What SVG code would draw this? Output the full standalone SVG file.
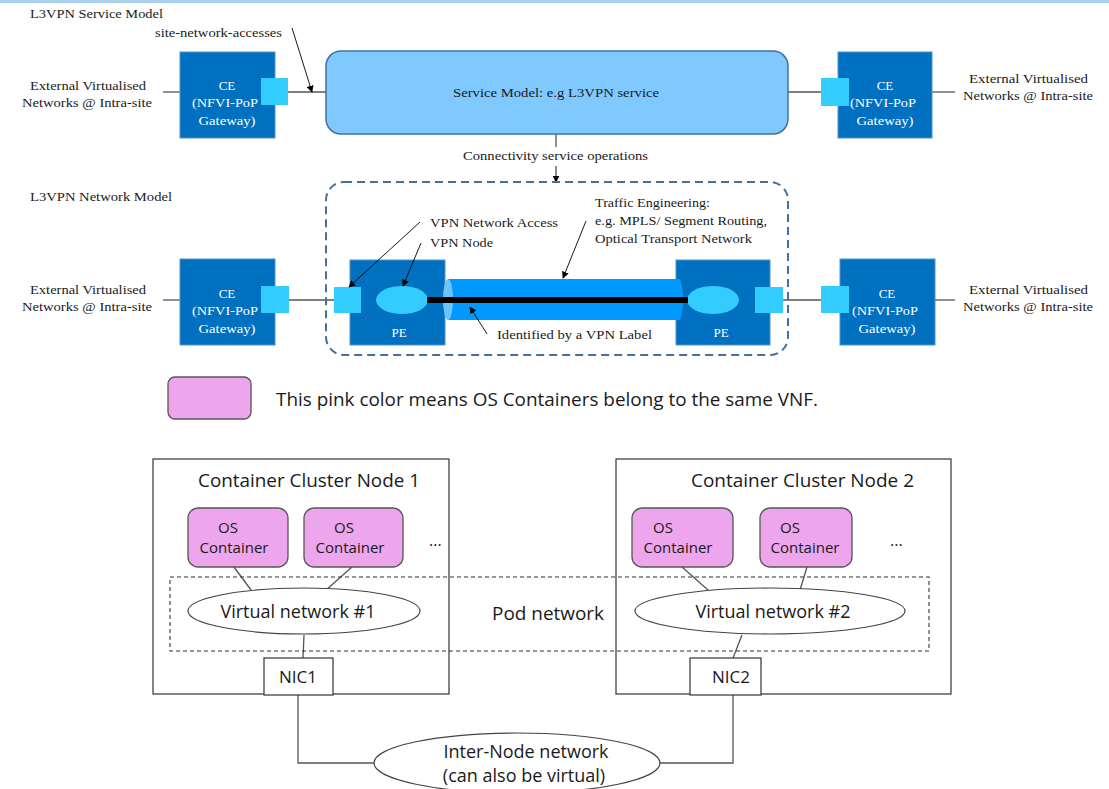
<svg xmlns="http://www.w3.org/2000/svg" width="1109" height="789" viewBox="0 0 1109 789">
<defs>
<marker id="ah" viewBox="0 0 10 10" refX="9" refY="5" markerWidth="7" markerHeight="7" orient="auto-start-reverse" markerUnits="userSpaceOnUse"><path d="M0,0 L10,5 L0,10 z" fill="#000"/></marker>
<style>
.ser{font-size:13px;fill:#1a1a1a}
.wht{font-size:13px;fill:#fff;text-anchor:middle}
.san{fill:#1a1a1a}
.ce{fill:#0070C0;stroke:#4e93d0;stroke-width:1}
.acc{fill:#33CCFF}
.ln{stroke:#555;stroke-width:1.3;fill:none}
.arw{stroke:#000;stroke-width:0.9;fill:none;marker-end:url(#ah)}
.os{fill:#EDA5ED;stroke:#555;stroke-width:1.3}
.box{fill:#fff;stroke:#333;stroke-width:1.2}
.frame{fill:none;stroke:#333;stroke-width:1.2}
.ell{fill:#fff;stroke:#444;stroke-width:1.2}
</style>
</defs>
<rect width="1109" height="789" fill="#fff"/>
<rect x="0" y="0" width="1109" height="3" fill="#a9d0ef"/>

<g id="connectors">
<line class="ln" x1="163" y1="92" x2="180" y2="92"/>
<line class="ln" x1="288" y1="92" x2="326" y2="92"/>
<line class="ln" x1="788" y1="92" x2="821" y2="92"/>
<line class="ln" x1="932" y1="92" x2="955" y2="92"/>
<line class="ln" x1="556" y1="134" x2="556" y2="147"/>
<line class="arw" x1="556" y1="166" x2="556" y2="182"/>
<line class="arw" x1="292" y1="28" x2="312" y2="92"/>
<line class="ln" x1="163" y1="300" x2="180" y2="300"/>
<line class="ln" x1="289" y1="300" x2="334" y2="300"/>
<line class="ln" x1="783" y1="300" x2="821" y2="300"/>
<line class="ln" x1="935" y1="300" x2="955" y2="300"/>
<line class="ln" x1="234" y1="567" x2="251" y2="590"/>
<line class="ln" x1="352" y1="567" x2="326" y2="590"/>
<line class="ln" x1="304" y1="635" x2="303" y2="658"/>
<line class="ln" x1="682" y1="567" x2="708" y2="590"/>
<line class="ln" x1="807" y1="567" x2="800" y2="590"/>
<line class="ln" x1="742" y1="635" x2="733" y2="658"/>
<polyline class="ln" points="298,695 298,763 374,763"/>
<polyline class="ln" points="733,695 733,763 660,763"/>
</g>

<g font-family="'Liberation Serif','DejaVu Serif','Times New Roman',serif">
<g id="title-service"><text class="ser" x="30" y="18" textLength="133" lengthAdjust="spacingAndGlyphs">L3VPN Service Model</text></g>
<g id="label-sna"><text class="ser" x="155" y="37" textLength="127" lengthAdjust="spacingAndGlyphs">site-network-accesses</text></g>
<g id="ext-tl"><text class="ser" x="30" y="90" textLength="116" lengthAdjust="spacingAndGlyphs">External Virtualised</text><text class="ser" x="22" y="107" textLength="130" lengthAdjust="spacingAndGlyphs">Networks @ Intra-site</text></g>
<g id="ce-tl"><rect class="ce" x="180" y="52" width="95" height="86"/><rect class="acc" x="261" y="78" width="27" height="27"/><text class="wht" x="227" y="90">CE</text><text class="wht" x="225" y="107" textLength="66" lengthAdjust="spacingAndGlyphs">(NFVI-PoP</text><text class="wht" x="227" y="125" textLength="57" lengthAdjust="spacingAndGlyphs">Gateway)</text></g>
<g id="service-model"><rect x="326" y="51" width="462" height="83" rx="15" fill="#7FC9FF" stroke="#41719C" stroke-width="1.5"/><text class="ser" x="453" y="97" textLength="206" lengthAdjust="spacingAndGlyphs">Service Model: e.g L3VPN service</text></g>
<g id="ce-tr"><rect class="ce" x="838" y="52" width="94" height="86"/><rect class="acc" x="821" y="78" width="28" height="28"/><text class="wht" x="885" y="90">CE</text><text class="wht" x="883" y="107" textLength="66" lengthAdjust="spacingAndGlyphs">(NFVI-PoP</text><text class="wht" x="885" y="125" textLength="57" lengthAdjust="spacingAndGlyphs">Gateway)</text></g>
<g id="ext-tr"><text class="ser" x="969" y="83" textLength="119" lengthAdjust="spacingAndGlyphs">External Virtualised</text><text class="ser" x="963" y="100" textLength="130" lengthAdjust="spacingAndGlyphs">Networks @ Intra-site</text></g>
<g id="conn-ops"><text class="ser" x="463" y="160" textLength="185" lengthAdjust="spacingAndGlyphs">Connectivity service operations</text></g>

<g id="title-network"><text class="ser" x="30" y="201" textLength="142" lengthAdjust="spacingAndGlyphs">L3VPN Network Model</text></g>
<g id="ext-bl"><text class="ser" x="30" y="294" textLength="116" lengthAdjust="spacingAndGlyphs">External Virtualised</text><text class="ser" x="22" y="311" textLength="130" lengthAdjust="spacingAndGlyphs">Networks @ Intra-site</text></g>
<g id="ce-bl"><rect class="ce" x="180" y="259" width="95" height="86"/><rect class="acc" x="261" y="286" width="28" height="27"/><text class="wht" x="227" y="298">CE</text><text class="wht" x="225" y="315" textLength="66" lengthAdjust="spacingAndGlyphs">(NFVI-PoP</text><text class="wht" x="227" y="333" textLength="57" lengthAdjust="spacingAndGlyphs">Gateway)</text></g>
<g id="network-model"><rect x="326" y="182" width="462" height="173" rx="18" fill="none" stroke="#41719C" stroke-width="2" stroke-dasharray="8,5"/></g>
<g id="pe-left"><rect class="ce" x="350" y="260" width="95" height="85"/><rect class="acc" x="334" y="287" width="27" height="26"/><ellipse cx="402" cy="300" rx="26" ry="14" fill="#33CCFF"/><text class="wht" x="399" y="337">PE</text></g>
<g id="pe-right"><rect class="ce" x="676" y="260" width="94" height="85"/><ellipse cx="713" cy="300" rx="26" ry="14" fill="#33CCFF"/><rect class="acc" x="755" y="287" width="28" height="26"/><text class="wht" x="721" y="337">PE</text></g>
<g id="tube"><path d="M448,279 L679,279 A4,20.5 0 0 1 679,320 L448,320 z" fill="#0099FF"/><ellipse cx="448" cy="299.5" rx="5" ry="20.5" fill="#6CC4FF"/><line x1="427" y1="300" x2="688" y2="300" stroke="#000" stroke-width="6"/></g>
<g id="ce-br"><rect class="ce" x="840" y="259" width="95" height="86"/><rect class="acc" x="821" y="286" width="28" height="27"/><text class="wht" x="887" y="298">CE</text><text class="wht" x="885" y="315" textLength="66" lengthAdjust="spacingAndGlyphs">(NFVI-PoP</text><text class="wht" x="887" y="333" textLength="57" lengthAdjust="spacingAndGlyphs">Gateway)</text></g>
<g id="ext-br"><text class="ser" x="969" y="294" textLength="119" lengthAdjust="spacingAndGlyphs">External Virtualised</text><text class="ser" x="963" y="311" textLength="130" lengthAdjust="spacingAndGlyphs">Networks @ Intra-site</text></g>
<g id="labels-network">
<text class="ser" x="430" y="227" textLength="128" lengthAdjust="spacingAndGlyphs">VPN Network Access</text>
<text class="ser" x="430" y="247" textLength="63" lengthAdjust="spacingAndGlyphs">VPN Node</text>
<text class="ser" x="595" y="207" textLength="115" lengthAdjust="spacingAndGlyphs">Traffic Engineering:</text>
<text class="ser" x="595" y="225" textLength="172" lengthAdjust="spacingAndGlyphs">e.g. MPLS/ Segment Routing,</text>
<text class="ser" x="595" y="243" textLength="157" lengthAdjust="spacingAndGlyphs">Optical Transport Network</text>
<text class="ser" x="497" y="339" textLength="155" lengthAdjust="spacingAndGlyphs">Identified by a VPN Label</text>
<line class="arw" x1="420" y1="222" x2="349" y2="287"/>
<line class="arw" x1="421" y1="243" x2="403" y2="286"/>
<line class="arw" x1="586" y1="221" x2="563" y2="278"/>
<line class="arw" x1="487" y1="334" x2="470" y2="307"/>
</g>
</g>

<g font-family="'Open Sans','Liberation Sans',Arial,sans-serif">
<g id="legend"><rect class="os" x="168" y="377" width="83" height="42" rx="7"/><text class="san" x="276" y="406" font-size="18" textLength="542" lengthAdjust="spacingAndGlyphs">This pink color means OS Containers belong to the same VNF.</text></g>

<g id="node1"><rect class="frame" x="153" y="459" width="296" height="235"/><text class="san" x="198" y="487" font-size="18" textLength="222" lengthAdjust="spacingAndGlyphs">Container Cluster Node 1</text><text class="san" x="429" y="546" font-size="16">...</text></g>
<g id="node2"><rect class="frame" x="616" y="459" width="335" height="235"/><text class="san" x="691" y="487" font-size="18" textLength="223" lengthAdjust="spacingAndGlyphs">Container Cluster Node 2</text><text class="san" x="890" y="546" font-size="16">...</text></g>

<g id="pod-network"><rect x="170" y="577" width="759" height="74" fill="none" stroke="#333" stroke-width="1.1" stroke-dasharray="4,3"/><text class="san" x="492" y="620" font-size="18" textLength="112" lengthAdjust="spacingAndGlyphs">Pod network</text></g>

<g id="os1a"><rect class="os" x="188" y="508" width="100" height="59" rx="10"/><text class="san" x="228" y="533" font-size="15" text-anchor="middle">OS</text><text class="san" x="234" y="553" font-size="15" text-anchor="middle">Container</text></g>
<g id="os1b"><rect class="os" x="304" y="508" width="99" height="59" rx="10"/><text class="san" x="344" y="533" font-size="15" text-anchor="middle">OS</text><text class="san" x="350" y="553" font-size="15" text-anchor="middle">Container</text></g>
<g id="vn1"><ellipse class="ell" cx="304" cy="611" rx="116" ry="23"/><text class="san" x="298" y="618" font-size="18" text-anchor="middle">Virtual network #1</text></g>
<g id="nic1"><rect class="box" x="264" y="658" width="69" height="37"/><text class="san" x="298" y="683" font-size="17" text-anchor="middle">NIC1</text></g>

<g id="os2a"><rect class="os" x="632" y="508" width="101" height="59" rx="10"/><text class="san" x="663" y="533" font-size="15" text-anchor="middle">OS</text><text class="san" x="678" y="553" font-size="15" text-anchor="middle">Container</text></g>
<g id="os2b"><rect class="os" x="760" y="508" width="92" height="59" rx="10"/><text class="san" x="790" y="533" font-size="15" text-anchor="middle">OS</text><text class="san" x="805" y="553" font-size="15" text-anchor="middle">Container</text></g>
<g id="vn2"><ellipse class="ell" cx="770" cy="611" rx="135" ry="23"/><text class="san" x="773" y="618" font-size="18" text-anchor="middle">Virtual network #2</text></g>
<g id="nic2"><rect class="box" x="690" y="658" width="71" height="37"/><text class="san" x="731" y="683" font-size="17" text-anchor="middle">NIC2</text></g>

<g id="inter-node"><ellipse class="ell" cx="517" cy="763" rx="143" ry="30"/><text class="san" x="526" y="758" font-size="18" text-anchor="middle">Inter-Node network</text><text class="san" x="524" y="782" font-size="18" text-anchor="middle">(can also be virtual)</text></g>
</g>
</svg>
